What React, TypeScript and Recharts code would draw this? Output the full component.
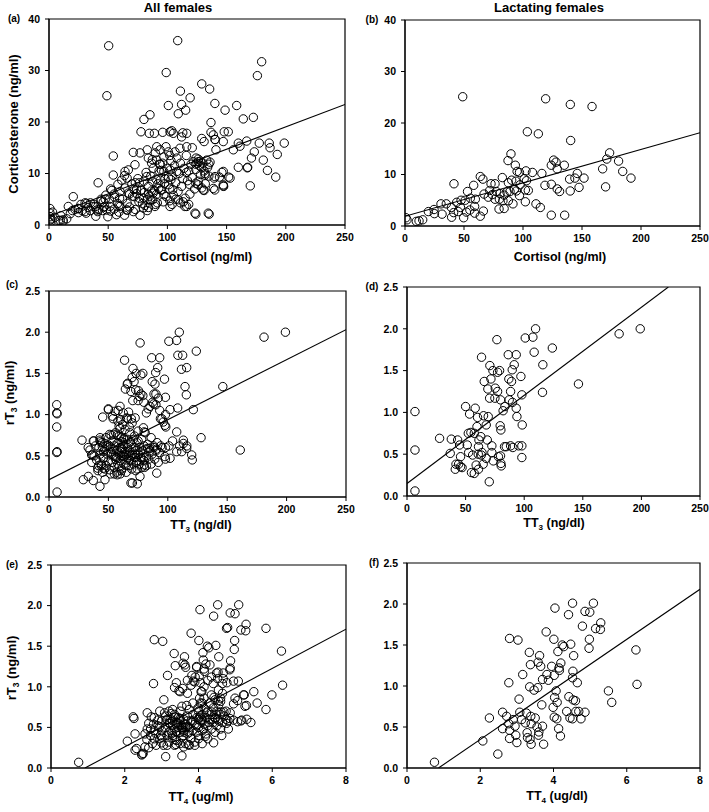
import React from 'react';
import { ScatterChart, Scatter, XAxis, YAxis, ReferenceArea } from 'recharts';

// lactating females: cortisol vs corticosterone (panel b)
const lactCortisol: [number, number][] = [
  [48.9,25.1],[119.2,24.7],[140.1,23.6],[158.5,23.2],[103.7,18.3],[113,17.9],[140.4,16.6],[89.8,14.0],[173.4,14.2],[87.3,12.7],
  [171,13.0],[181,12.6],[93.5,11.8],[126,12.8],[128,12.4],[124,11.8],[135,11.8],[95,10.6],[97,10.4],[102.5,10.7],
  [108,10.4],[116,10.2],[129,11.1],[146,10.2],[167.5,11.1],[184.5,10.6],[191.5,9.3],[151.7,9.3],[144,9.3],[139.5,9.1],
  [63.8,9.6],[41.5,8.2],[58.2,7.9],[66,9.1],[72.9,8.2],[76.3,8.2],[82.5,9.4],[87.6,8.4],[90.4,8.9],[94,8.7],
  [101,9.2],[103,8.8],[118.6,7.9],[124,8.1],[129,7.2],[131,6.7],[140,6.8],[147.5,7.5],[170,7.6],[53,6.7],
  [67,6.2],[71.8,6.9],[74,6.1],[77.4,6.7],[80.5,6.3],[84,6.0],[86.4,6.6],[89,6.7],[92.7,7.1],[94.4,6.8],
  [102,7.0],[104.5,6.9],[97.5,8.0],[97,5.9],[80,5.2],[83,4.9],[87.6,4.9],[76.3,5.2],[70.6,5.6],[59.6,5.2],
  [55.4,5.4],[51,5.0],[47.5,5.0],[43.8,4.6],[102,4.7],[111,4.3],[114.7,3.6],[79.7,3.3],[84,3.4],[91.5,4.3],
  [59,3.8],[55,3.1],[52,2.7],[49.7,1.6],[45.2,2.8],[39.3,3.6],[41.2,2.6],[39.5,1.7],[35,4.3],[30.5,4.3],
  [31.4,2.3],[24.6,3.2],[24.9,2.4],[19.8,2.8],[63.8,1.9],[66.4,2.9],[124,2.1],[135.3,2.1],[0.8,1.6],[1.7,1.2],
  [9.6,0.9],[11.9,1.0],[15,1.2],[59,2.5],[47,3.6],
];

// other females, added to the lactating ones in panel a
const otherCortisol: [number, number][] = [
  [50.4,34.8],[108.7,35.8],[99,29.6],[176,29.0],[179.6,31.7],[129,27.4],[135.7,26.4],[111,26.0],[100.8,23.2],[112,23.4],
  [115.4,22.3],[109.2,21.6],[148.7,22.3],[164.1,20.6],[172.6,20.9],[85.3,21.4],[80.2,20.5],[77.7,18.1],[84.7,17.8],[89,17.8],
  [96,18.0],[102.2,18.1],[105,17.8],[116.3,17.8],[112,17.1],[136.8,19.9],[136.8,18.0],[138.8,17.5],[129,16.8],[131,16.2],
  [148,18.1],[151.4,18.1],[147.2,16.2],[140.2,16.6],[159.9,15.9],[167,16.3],[161.3,15.3],[155.7,14.6],[177.6,15.9],[186,15.9],
  [186.7,15.0],[198.7,15.9],[192.8,13.7],[159.9,11.2],[167.8,11.2],[54.3,13.4],[71.2,14.1],[76.9,14.0],[83,14.6],[91,15.2],
  [93.8,14.6],[98.8,15.2],[100.8,14.2],[106.4,14.2],[110.6,14.9],[116.3,15.2],[121,15.0],[124.2,13.0],[126.1,12.3],[133.2,12.6],
  [141,14.6],[64.2,10.4],[67,10.7],[72.6,11.7],[54.3,9.7],[61.4,8.7],[83.9,13.0],[86.7,12.0],[91,12.6],[20.5,5.5],
  [31.8,4.2],[37.4,3.6],[40.3,2.9],[30.4,2.6],[45.9,4.5],[48.7,2.9],[51.5,3.6],[60,3.6],[65.6,2.9],[71.2,2.6],
  [76.9,1.9],[89.5,3.6],[96.5,4.5],[102.2,3.6],[109.2,4.9],[113.4,4.5],[116.3,3.6],[123.3,2.3],[134.5,2.3],[126.1,7.8],
  [130.3,6.8],[138.8,7.1],[147.2,7.8],[131.8,9.7],[140.2,9.4],[147.2,10.4],[152.9,9.1],[147.2,7.6],[131.8,10.0],[0.8,3.2],
  [0.8,2.3],[1.2,1.0],[1.0,0.5],[16.3,3.6],[24.8,3.2],[12,0.7],[5,1.5],[60,6.5],[62,5.0],[64,7.2],
  [66,4.2],[68,6.0],[70,8.0],[72,5.5],[74,7.0],[75,9.0],[76,4.5],[78,6.8],[80,8.5],[81,3.8],
  [82,10.2],[84,7.5],[85,5.6],[86,9.5],[88,11.0],[88,6.2],[90,4.0],[92,8.0],[93,10.5],[95,6.8],
  [96,12.0],[98,9.0],[99,5.5],[100,11.0],[101,7.8],[103,12.5],[104,9.5],[105,5.8],[106,11.5],[107,8.2],
  [108,13.0],[109,6.5],[110,10.0],[111,12.0],[112,7.5],[113,9.0],[114,11.0],[115,5.2],[116,13.5],[117,8.6],
  [118,10.5],[119,6.0],[120,11.8],[121,9.2],[122,12.3],[123,7.0],[124,10.8],[125,12.0],[126,8.5],[127,11.5],
  [128,9.8],[130,12.0],[131,10.5],[132,8.0],[134,11.2],[135,9.5],[136,12.2],[97,13.2],[102,13.5],[94,11.8],
  [58,4.2],[55,6.0],[52,7.0],[48,5.8],[46,3.4],[44,5.0],[42,3.0],[38,4.0],[35,2.8],[33,3.4],
  [28,2.8],[27,4.0],[22,3.0],[18,2.2],[10,1.8],[8,0.9],[3,2.5],[57,2.0],[68,3.5],[73,3.0],
  [79,4.2],[83,2.8],[86,4.8],[91,6.0],[104,4.0],[118,4.0],[107,5.0],
];

// lactating females: TT3 vs rT3 (panel d)
const lactTT3: [number, number][] = [
  [6.8,1.01],[6.8,0.55],[6.8,0.06],[27.8,0.69],[37.8,0.68],[36.9,0.51],[43.2,0.67],[41.2,0.32],[41.8,0.38],[44,0.38],
  [45.7,0.35],[45.7,0.47],[44.9,0.61],[50,1.07],[53.4,0.98],[52.3,0.75],[54.5,0.76],[51.4,0.61],[52.6,0.52],[56,0.49],
  [55,0.28],[57.4,0.27],[58.2,1.05],[60.2,0.94],[59.7,0.83],[61.4,0.67],[63,0.71],[61,0.59],[60.8,0.50],[64,0.52],
  [63.4,0.49],[61,0.32],[59,0.37],[65,0.38],[63.6,1.66],[65.9,1.37],[65.3,0.96],[67.6,0.85],[69.3,0.95],[68.5,0.67],
  [67.6,0.45],[70.2,0.17],[69,1.28],[70.5,1.17],[70.7,1.56],[71.6,1.40],[72.4,0.60],[72.4,0.52],[73.6,0.42],[73.3,1.50],
  [75.3,1.29],[76.7,1.87],[77.3,1.48],[79,1.50],[77.3,1.25],[75,1.17],[79.8,1.15],[79.5,0.84],[80.1,0.79],[79.8,0.48],
  [80.1,0.39],[80.4,0.36],[78,0.47],[82,1.02],[83.5,1.07],[83.2,0.59],[84.7,0.59],[86.4,1.69],[86.9,1.40],[87.2,1.15],
  [88.4,1.25],[88.4,0.60],[89.2,1.37],[89.8,1.51],[91.5,1.57],[90,1.12],[90.3,0.58],[93.2,1.69],[93.2,1.05],[93.8,0.95],
  [95.2,0.60],[97.2,1.43],[98,1.21],[98,0.60],[98.3,0.85],[98,0.46],[100.9,1.89],[107.4,1.90],[109.7,2.0],[108.5,1.72],
  [115.9,1.57],[115.6,1.24],[124,1.77],[146.3,1.34],[181,1.94],[199,2.0],[57.4,0.75],[47,0.34],
];

const otherTT3: [number, number][] = [
  [6.5,1.12],[6.5,1.02],[6.5,0.85],[6.5,0.54],[28.9,0.21],[33.1,0.25],[37.3,0.20],[42.9,0.13],[47.1,0.21],[34.5,0.57],
  [35.9,0.51],[37.3,0.68],[42.9,0.69],[45.2,0.97],[50,1.06],[55.6,1.04],[59.8,1.10],[62.5,1.02],[69.6,0.34],[74.3,0.34],
  [76.6,0.25],[69,0.17],[74.3,0.16],[90.7,0.29],[97.6,0.49],[101.9,0.47],[107.5,0.55],[113.1,0.69],[111.7,0.55],[120.1,0.51],
  [120.6,0.45],[128,0.72],[107.5,0.79],[113.1,0.65],[115.9,0.59],[97.6,0.87],[96.2,0.91],[114.5,1.34],[121.5,1.06],[108.3,1.08],
  [101.9,1.06],[161,0.57],[111.5,1.55],[112.5,1.72],[64.3,1.31],[66.3,1.38],[67,1.03],[72.5,0.96],[70,1.45],[73,1.30],
  [76,1.22],[79,1.23],[85,1.10],[88,1.13],[90,1.25],[92,1.20],[95,0.95],[98,1.00],[101,0.62],[104,0.68],
  [110,0.62],[116,0.62],[40,0.45],[41,0.35],[42,0.60],[43,0.52],[44,0.40],[45,0.30],[45,0.66],[46,0.48],
  [47,0.58],[48,0.38],[48,0.72],[49,0.52],[50,0.44],[50,0.63],[51,0.33],[51,0.76],[52,0.55],[53,0.42],
  [53,0.68],[54,0.50],[55,0.36],[55,0.62],[56,0.46],[56,0.78],[57,0.56],[57,0.30],[58,0.40],[58,0.66],
  [59,0.52],[59,0.86],[60,0.44],[60,0.60],[61,0.34],[61,0.72],[62,0.50],[62,0.58],[63,0.40],[63,0.64],
  [64,0.55],[64,0.82],[65,0.45],[65,0.30],[66,0.60],[66,0.70],[67,0.50],[67,0.38],[68,0.56],[68,0.78],
  [69,0.44],[69,0.64],[70,0.52],[70,0.90],[71,0.40],[71,0.60],[72,0.48],[72,0.74],[73,0.56],[73,0.32],
  [74,0.44],[74,0.66],[75,0.52],[75,0.80],[76,0.40],[76,0.60],[77,0.48],[78,0.70],[78,0.36],[79,0.56],
  [80,0.44],[80,0.62],[81,0.78],[82,0.50],[82,0.38],[83,0.64],[84,0.46],[85,0.56],[86,0.40],[86,0.72],
  [87,0.52],[88,0.62],[89,0.46],[90,0.56],[91,0.66],[92,0.42],[93,0.54],[94,0.62],[52,0.28],[54,0.95],
  [58,0.92],[62,0.88],[66,0.95],[60,0.28],[47,0.65],[43,0.72],[38,0.50],[39,0.62],[36,0.42],[33,0.60],
  [46,0.55],[49,0.62],[53,0.58],[57,0.48],[61,0.55],[65,0.52],[69,0.50],[73,0.48],[77,0.55],[81,0.58],
  [63,0.70],[59,0.74],[71,0.70],[75,0.68],
];

// lactating females: TT4 vs rT3 (panel f)
const lactTT4: [number, number][] = [
  [0.75,0.07],[2.07,0.33],[2.25,0.61],[2.48,0.17],[2.61,0.68],[2.61,0.48],[2.72,0.63],[2.78,0.54],[2.8,1.58],[2.78,1.04],
  [2.8,0.36],[2.8,0.46],[2.9,0.59],[2.95,0.51],[2.97,0.40],[3.03,1.56],[3.0,0.31],[3.06,0.84],[3.08,0.68],[3.16,1.14],
  [3.13,0.59],[3.23,0.55],[3.26,0.67],[3.28,0.43],[3.29,0.37],[3.34,1.41],[3.35,0.99],[3.37,1.26],[3.38,0.63],[3.39,0.54],
  [3.36,0.35],[3.39,0.29],[3.47,0.95],[3.5,0.61],[3.55,0.50],[3.57,0.98],[3.58,1.29],[3.62,1.37],[3.6,0.44],[3.59,0.40],
  [3.65,1.24],[3.68,0.77],[3.7,0.51],[3.73,0.29],[3.7,1.08],[3.8,1.66],[3.82,1.14],[3.86,1.07],[3.95,1.24],[3.99,0.74],
  [4.01,1.57],[4.02,1.13],[4.02,0.62],[4.04,1.95],[4.03,0.86],[4.07,0.94],[4.09,0.60],[4.1,0.80],[4.12,1.42],[4.14,0.48],
  [4.19,0.39],[4.15,1.22],[4.16,1.19],[4.2,1.28],[4.24,1.50],[4.28,1.48],[4.36,0.69],[4.41,1.87],[4.42,0.87],[4.45,0.61],
  [4.47,1.51],[4.52,2.01],[4.52,1.10],[4.53,1.18],[4.55,1.37],[4.54,0.83],[4.52,0.60],[4.6,0.82],[4.61,0.69],[4.65,1.04],
  [4.69,0.69],[4.75,0.60],[4.79,1.73],[4.86,0.68],[4.86,1.91],[4.99,1.90],[4.98,1.57],[4.97,1.46],[5.09,2.01],[5.15,1.70],
  [5.28,1.69],[5.29,1.77],[5.5,0.94],[5.59,0.80],[6.25,1.44],[6.28,1.02],
];

const otherTT4: [number, number][] = [
  [2.28,0.42],[2.28,0.22],[2.50,0.18],[2.55,0.26],[2.46,0.16],[2.32,0.24],[2.23,0.63],[3.11,0.14],[3.55,0.15],[4.41,0.31],
  [4.63,0.40],[4.81,0.48],[4.95,0.59],[5.06,0.57],[5.15,0.58],[5.31,0.60],[5.42,0.56],[5.30,0.77],[5.24,0.90],[5.83,0.72],
  [5.99,0.90],[5.83,1.72],[5.06,0.83],[4.95,0.79],[5.08,1.07],[4.95,1.07],[4.77,1.05],[4.67,1.10],[4.86,1.23],[4.87,1.32],
  [4.76,1.72],[4.85,1.21],[4.49,1.17],[4.67,1.17],[4.13,1.33],[4.31,1.27],[3.63,1.27],[3.95,1.25],[3.91,1.12],[4.09,0.94],
  [4.54,0.96],[4.99,0.86],[5.22,0.90],[5.26,0.76],[4.85,0.61],[4.76,0.55],[5.17,0.59],[2.55,0.42],[2.6,0.35],[2.65,0.55],
  [2.7,0.48],[2.75,0.30],[2.8,0.62],[2.85,0.42],[2.9,0.52],[2.95,0.36],[3.0,0.58],[3.0,0.46],[3.05,0.28],[3.1,0.50],
  [3.1,0.64],[3.15,0.40],[3.2,0.55],[3.2,0.32],[3.25,0.46],[3.25,0.60],[3.3,0.52],[3.3,0.40],[3.35,0.66],[3.35,0.48],
  [3.4,0.56],[3.4,0.34],[3.45,0.50],[3.45,0.62],[3.5,0.44],[3.5,0.58],[3.5,0.70],[3.55,0.52],[3.55,0.38],[3.6,0.60],
  [3.6,0.46],[3.65,0.54],[3.65,0.30],[3.7,0.64],[3.7,0.42],[3.75,0.50],[3.75,0.72],[3.8,0.58],[3.8,0.36],[3.85,0.46],
  [3.85,0.66],[3.9,0.54],[3.9,0.32],[3.95,0.62],[3.95,0.44],[4.0,0.70],[4.0,0.50],[4.0,0.36],[4.05,0.58],[4.05,0.80],
  [4.1,0.46],[4.1,0.66],[4.15,0.54],[4.15,0.74],[4.2,0.42],[4.2,0.62],[4.25,0.70],[4.25,0.52],[4.3,0.60],[4.3,0.80],
  [4.35,0.48],[4.35,0.66],[4.4,0.56],[4.4,0.74],[4.45,0.62],[4.5,0.52],[4.5,0.70],[4.55,0.58],[4.55,0.78],[4.6,0.66],
  [4.6,0.48],[4.65,0.56],[4.7,0.64],[4.75,0.70],[4.8,0.58],[3.35,0.28],[3.6,0.26],[3.75,0.28],[3.9,0.28],[4.1,0.30],
  [4.25,0.36],[4.45,0.44],[2.95,0.70],[3.2,0.70],[3.3,0.72],[3.55,0.76],[3.85,0.80],[4.15,0.86],[4.35,0.90],[4.45,0.84],
  [4.6,0.86],[4.65,0.92],[3.8,1.02],[3.9,1.06],[4.05,1.05],[4.15,1.00],[4.25,1.08],[4.35,1.12],[4.4,1.04],[3.5,0.94],
  [3.7,0.92],[3.4,1.05],[3.15,0.60],[2.7,0.40],[3.0,0.38],[3.4,0.45],[3.6,0.54],[3.7,0.58],[3.45,0.55],[3.55,0.48],
  [3.65,0.50],[3.75,0.44],[4.05,0.64],[4.12,0.58],[4.22,0.68],[4.28,0.56],[4.38,0.60],[4.48,0.66],[2.85,0.28],[2.65,0.25],
  [3.15,0.28],[3.5,0.30],[4.0,0.40],[3.2,0.44],[3.3,0.58],[3.95,0.52],[3.85,0.58],[4.0,0.60],
];

// regression line end points
const fitA: [number, number][] = [[0, 1.7], [250, 23.4]];
const fitB: [number, number][] = [[0, 1.9], [250, 18.1]];
const fitC: [number, number][] = [[0, 0.21], [250, 2.03]];
const fitD: [number, number][] = [[0, 0.15], [223, 2.5]];
const fitE: [number, number][] = [[0.92, 0], [8, 1.71]];
const fitF: [number, number][] = [[0.86, 0], [8, 2.18]];

const cortTicksX = [0, 50, 100, 150, 200, 250];
const cortTicksY = [0, 10, 20, 30, 40];
const t3TicksX = [0, 50, 100, 150, 200, 250];
const t4TicksX = [0, 2, 4, 6, 8];
const rt3TicksY = [0, 0.5, 1.0, 1.5, 2.0, 2.5];

const FONT = '"Liberation Sans", Arial, sans-serif';
const toPts = (arr: [number, number][]) => arr.map(([x, y]) => ({ x, y }));

const Ring = (p: any) => <circle cx={p.cx} cy={p.cy} r={4.2} fill="none" stroke="#000" strokeWidth={1} />;
const NoDot = () => <g />;

type PanelProps = {
  box: [number, number, number, number];
  points: [number, number][];
  fit: [number, number][];
  xMax: number;
  yMax: number;
  xTicks: number[];
  yTicks: number[];
  yFmt?: (v: number) => string;
};

function Panel({ box, points, fit, xMax, yMax, xTicks, yTicks, yFmt }: PanelProps) {
  const [x0, y0, x1, y1] = box;
  const padL = 45, padT = 10, padR = 12, padB = 30;
  const w = x1 - x0 + padL + padR;
  const h = y1 - y0 + padT + padB;
  const tick = { fontSize: 10.5, fontWeight: 700, fill: '#000', fontFamily: FONT };
  return (
    <div style={{ position: 'absolute', left: x0 - padL, top: y0 - padT }}>
      <ScatterChart width={w} height={h} margin={{ top: padT, right: padR, left: 0, bottom: 0 }}>
        <XAxis type="number" dataKey="x" domain={[0, xMax]} ticks={xTicks} allowDataOverflow
          height={padB} tick={tick} tickSize={4} tickMargin={5} stroke="#000" interval={0} />
        <YAxis type="number" dataKey="y" domain={[0, yMax]} ticks={yTicks} allowDataOverflow
          width={padL} tick={tick} tickSize={4} tickMargin={5} stroke="#000" interval={0}
          tickFormatter={yFmt} />
        <ReferenceArea x1={0} x2={xMax} y1={0} y2={yMax} fill="none" stroke="#000" strokeWidth={1.2} />
        <Scatter data={toPts(points)} shape={Ring} isAnimationActive={false} />
        <Scatter data={toPts(fit)} shape={NoDot} line={{ stroke: '#000', strokeWidth: 1.1 }} isAnimationActive={false} />
      </ScatterChart>
    </div>
  );
}

const Txt = ({ x, y, size, rotate, children }: any) => (
  <div style={{
    position: 'absolute', left: x, top: y, whiteSpace: 'nowrap', fontFamily: FONT, fontWeight: 700,
    fontSize: size, lineHeight: 1, color: '#000',
    transform: `translate(-50%, -50%)${rotate ? ' rotate(-90deg)' : ''}`,
  }}>{children}</div>
);

const Sub = ({ children }: any) => (
  <span style={{ fontSize: '0.65em', position: 'relative', top: '0.35em' }}>{children}</span>
);

const f1 = (v: number) => v.toFixed(1);

export default function App() {
  return (
    <div style={{ position: 'absolute', left: 0, top: 0, width: 709, height: 812, background: '#fff', overflow: 'hidden' }}>
      <Panel box={[49, 19, 345, 225]} points={[...lactCortisol, ...otherCortisol]} fit={fitA}
        xMax={250} yMax={40} xTicks={cortTicksX} yTicks={cortTicksY} />
      <Panel box={[405, 20, 700, 226]} points={lactCortisol} fit={fitB}
        xMax={250} yMax={40} xTicks={cortTicksX} yTicks={cortTicksY} />
      <Panel box={[49, 291, 346, 497]} points={[...lactTT3, ...otherTT3]} fit={fitC}
        xMax={250} yMax={2.5} xTicks={t3TicksX} yTicks={rt3TicksY} yFmt={f1} />
      <Panel box={[407, 287, 700, 496]} points={lactTT3} fit={fitD}
        xMax={250} yMax={2.5} xTicks={t3TicksX} yTicks={rt3TicksY} yFmt={f1} />
      <Panel box={[51, 565, 346, 768]} points={[...lactTT4, ...otherTT4]} fit={fitE}
        xMax={8} yMax={2.5} xTicks={t4TicksX} yTicks={rt3TicksY} yFmt={f1} />
      <Panel box={[407, 563, 700, 768]} points={lactTT4} fit={fitF}
        xMax={8} yMax={2.5} xTicks={t4TicksX} yTicks={rt3TicksY} yFmt={f1} />

      <Txt x={178} y={7} size={13}>All females</Txt>
      <Txt x={549} y={7} size={13}>Lactating females</Txt>

      <Txt x={14} y={19} size={10}>(a)</Txt>
      <Txt x={372} y={20} size={10}>(b)</Txt>
      <Txt x={12} y={285} size={10}>(c)</Txt>
      <Txt x={372} y={287} size={10}>(d)</Txt>
      <Txt x={12} y={565} size={10}>(e)</Txt>
      <Txt x={374} y={563} size={10}>(f)</Txt>

      <Txt x={13} y={124} size={13} rotate>Corticosterone (ng/ml)</Txt>
      <Txt x={9} y={393} size={13} rotate>r<span>T</span><Sub>3</Sub> (ng/ml)</Txt>
      <Txt x={11} y={668} size={13} rotate>r<span>T</span><Sub>3</Sub> (ng/ml)</Txt>

      <Txt x={206} y={257} size={12.5}>Cortisol (ng/ml)</Txt>
      <Txt x={560} y={257} size={12.5}>Cortisol (ng/ml)</Txt>
      <Txt x={201} y={525} size={12.5}>TT<Sub>3</Sub> (ng/dl)</Txt>
      <Txt x={554} y={523} size={12.5}>TT<Sub>3</Sub> (ng/dl)</Txt>
      <Txt x={201} y={797} size={12.5}>TT<Sub>4</Sub> (ug/ml)</Txt>
      <Txt x={557} y={796} size={12.5}>TT<Sub>4</Sub> (ug/dl)</Txt>
    </div>
  );
}
